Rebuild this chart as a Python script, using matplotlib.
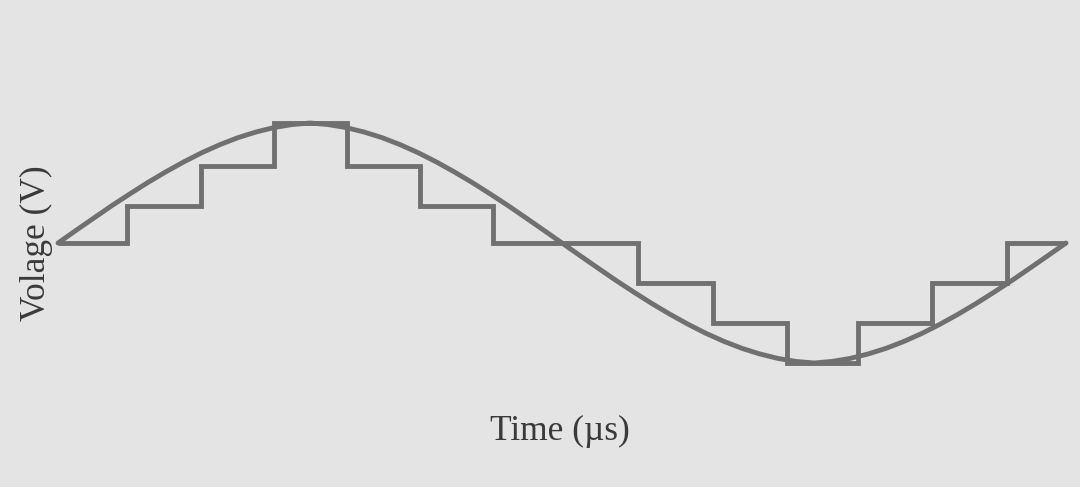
import numpy as np
import matplotlib
matplotlib.use('Agg')
import matplotlib.pyplot as plt

# time in step units (one staircase step = 1), voltage normalised to the peak
# positive half of the smooth wave, read every quarter step (t = 0 .. 7)
half_wave = [0.0, 0.105, 0.209, 0.312, 0.410, 0.505, 0.594, 0.677, 0.753,
             0.820, 0.878, 0.925, 0.962, 0.987, 1.0, 0.987, 0.962, 0.925,
             0.878, 0.820, 0.753, 0.677, 0.594, 0.505, 0.410, 0.312, 0.209,
             0.105, 0.0]
curve_v = half_wave + [-v for v in half_wave[1:]]
curve_t = np.arange(len(curve_v)) * 0.25

step_edges = [0.0, 0.96, 1.99, 3.0, 4.02, 5.03, 6.04, 8.06, 9.1, 10.13,
              11.11, 12.14, 13.18, 14.0]
step_levels = [0.0, 0.31, 0.64, 1.0, 0.64, 0.31, 0.0,
               -0.33, -0.67, -1.0, -0.67, -0.33, 0.0]

BG = '#e4e4e4'
LINE = '#707070'

fig = plt.figure(figsize=(10.8, 4.87), dpi=100, facecolor=BG)
ax = fig.add_axes([0, 0, 1, 1])
ax.set_facecolor(BG)

ax.plot(curve_t, curve_v, color=LINE, lw=3.5, solid_capstyle='round',
        solid_joinstyle='round')
ax.stairs(step_levels, step_edges, color=LINE, lw=3.5, baseline=None)

# limits chosen so the wave sits where it does in the scan
ax.set_xlim(-58 / 72, (1080 - 58) / 72)
ax.set_ylim((243 - 487) / 120, 243 / 120)
ax.axis('off')

fig.text(0.5185, 1 - 440 / 487, 'Time (µs)', ha='center', va='baseline',
         fontsize=25.5, family='Liberation Serif', color='#3a3a3a')
fig.text(0.034, 0.50, 'Volage (V)', ha='center', va='center', rotation=90,
         fontsize=25.5, family='Liberation Serif', color='#3a3a3a')

fig.savefig('out.png', dpi=100, facecolor=BG)
